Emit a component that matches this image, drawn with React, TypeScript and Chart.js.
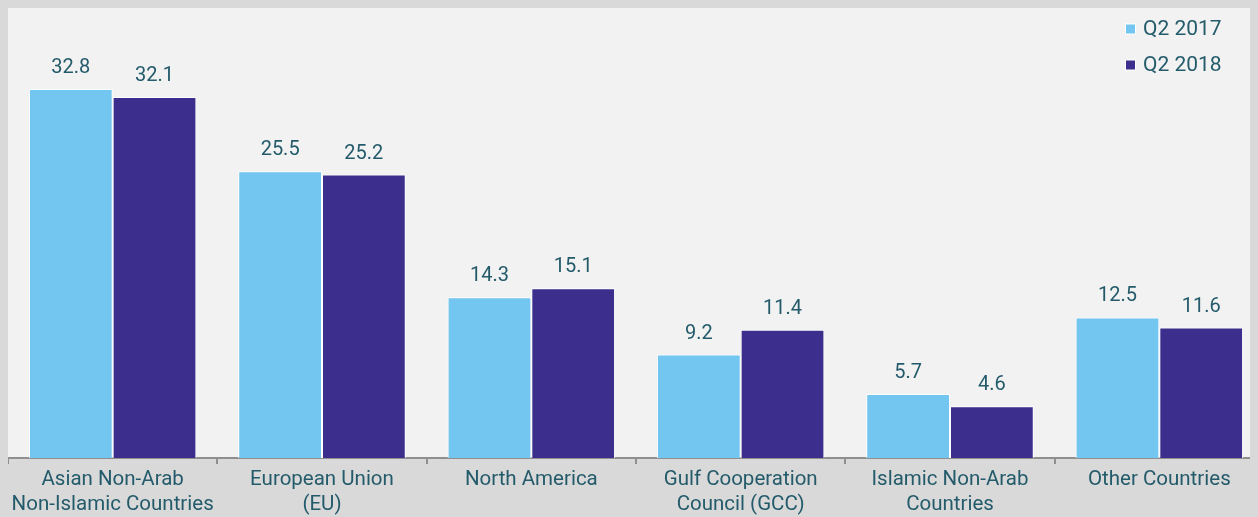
import React, { useEffect, useRef } from "react";
import { Chart, registerables } from "chart.js";

Chart.register(...registerables);

const categories: string[][] = [
  ["Asian Non-Arab", "Non-Islamic Countries"],
  ["European Union", "(EU)"],
  ["North America"],
  ["Gulf Cooperation", "Council (GCC)"],
  ["Islamic Non-Arab", "Countries"],
  ["Other Countries"],
];
const seriesNames = ["Q2 2017", "Q2 2018"];
const q2017 = [32.8, 25.5, 14.3, 9.2, 5.7, 12.5];
const q2018 = [32.1, 25.2, 15.1, 11.4, 4.6, 11.6];
const colors = ["#73C6F0", "#3B2E8D"];
const textColor = "#245B6B";
const fontFamily = "Roboto, 'Open Sans', sans-serif";

const bgPlugin = {
  id: "panelBg",
  beforeDraw(chart: any) {
    const { ctx, chartArea } = chart;
    ctx.save();
    ctx.fillStyle = "#F2F2F2";
    ctx.fillRect(0, 0, chart.width, chartArea.bottom);
    ctx.restore();
  },
};

const labelPlugin = {
  id: "valueLabels",
  afterDatasetsDraw(chart: any) {
    const { ctx } = chart;
    ctx.save();
    ctx.fillStyle = textColor;
    ctx.font = `20px ${fontFamily}`;
    ctx.textAlign = "center";
    ctx.textBaseline = "alphabetic";
    chart.data.datasets.forEach((ds: any, i: number) => {
      const meta = chart.getDatasetMeta(i);
      meta.data.forEach((bar: any, j: number) => {
        ctx.fillText(ds.data[j].toFixed(1), bar.x, bar.y - 16);
      });
    });
    // legend
    ctx.textAlign = "left";
    ctx.textBaseline = "middle";
    ctx.font = `21px ${fontFamily}`;
    seriesNames.forEach((name, i) => {
      const cy = 21 + i * 36;
      ctx.fillStyle = "#FFFFFF";
      ctx.fillRect(1117, cy - 5.5, 11, 11);
      ctx.fillStyle = colors[i];
      ctx.fillRect(1118, cy - 4.5, 9, 9);
      ctx.fillStyle = textColor;
      ctx.fillText(name, 1135, cy + 1);
    });
    ctx.restore();
  },
};

export default function App() {
  const ref = useRef<HTMLCanvasElement | null>(null);
  useEffect(() => {
    document.body.style.background = "#D9D9D9";
    document.body.style.overflow = "hidden";
    const chart = new Chart(ref.current!, {
      type: "bar",
      data: {
        labels: categories,
        datasets: [
          {
            label: seriesNames[0],
            data: q2017,
            backgroundColor: colors[0],
            borderColor: "#FFFFFF",
            borderWidth: 1,
            categoryPercentage: 0.8,
            barPercentage: 1.0,
          },
          {
            label: seriesNames[1],
            data: q2018,
            backgroundColor: colors[1],
            borderColor: "#FFFFFF",
            borderWidth: 1,
            categoryPercentage: 0.8,
            barPercentage: 1.0,
          },
        ],
      },
      options: {
        animation: false,
        responsive: true,
        maintainAspectRatio: false,
        layout: { padding: 0 },
        plugins: {
          legend: { display: false },
          tooltip: { enabled: false },
        },
        scales: {
          y: { display: false, min: 0, max: 40 },
          x: {
            afterFit(scale: any) {
              scale.height = 62;
              scale.paddingLeft = 0;
              scale.paddingRight = 0;
            },
            border: { display: true, color: "#8F8F8F", width: 2 },
            grid: {
              display: true,
              drawOnChartArea: false,
              drawTicks: true,
              tickLength: 6,
              color: "#8F8F8F",
              lineWidth: 2,
              offset: true,
            },
            ticks: {
              color: textColor,
              font: { family: fontFamily, size: 20.5, lineHeight: "25px" },
              padding: 3,
              maxRotation: 0,
              autoSkip: false,
            },
          },
        },
      },
      plugins: [bgPlugin, labelPlugin],
    });
    return () => chart.destroy();
  }, []);
  return (
    <div style={{ position: "relative", width: 1256, height: 512 }}>
      <canvas ref={ref} />
    </div>
  );
}
